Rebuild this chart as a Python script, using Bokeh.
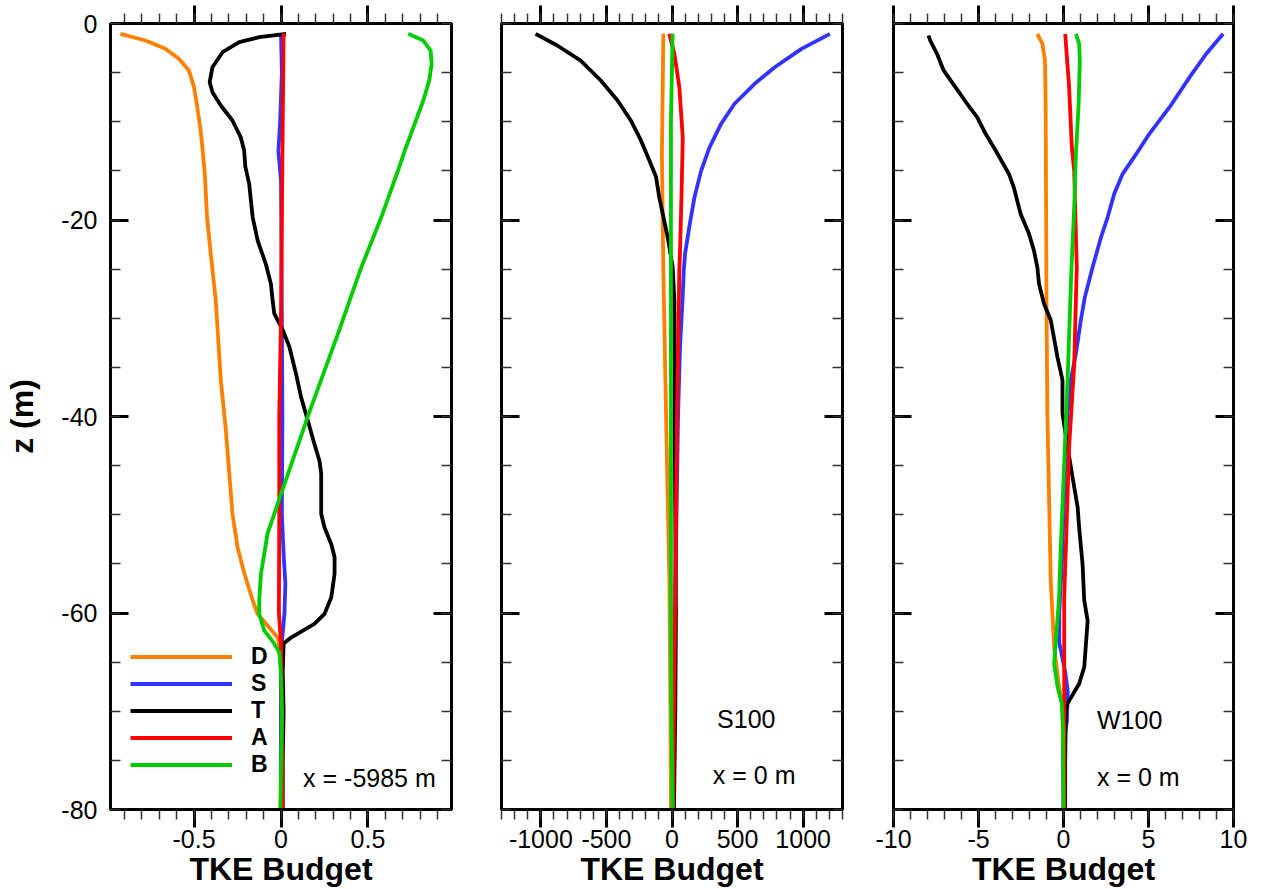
import numpy as np
from bokeh.plotting import figure
from bokeh.models import (LinearAxis, FixedTicker, CustomJSTickFormatter, Range1d,
                          Legend, LegendItem, Label)
from bokeh.layouts import row
from bokeh.embed import file_html
from bokeh.resources import INLINE

FONT = "Liberation Sans"

# ---------------- data ----------------
series_names = ["D", "S", "T", "A", "B"]
series_colors = ["#FF8000", "#3333FF", "#000000", "#FF0000", "#00CC00"]

y_ticks = [0, -20, -40, -60, -80]
p1_xticks = [-0.5, 0, 0.5]
p2_xticks = [-1000, -500, 0, 500, 1000]
p3_xticks = [-10, -5, 0, 5, 10]

# Panel 1 (x = -5985 m)
p1_D_z = [-1.05, -1.73, -2.58, -3.59, -4.78, -6.48, -8.52, -10.9, -12.6, -15.3, -19.7, -23.4, -28.2, -36.3, -41.4,
          -49.9, -53.3, -56, -58.7, -60.1, -60.9, -62.5, -64, -70, -80]
p1_D_x = [-0.923, -0.779, -0.664, -0.587, -0.529, -0.5, -0.481, -0.462, -0.452, -0.438, -0.425, -0.404, -0.375,
          -0.346, -0.317, -0.279, -0.25, -0.21, -0.163, -0.134, -0.096, -0.019, 0.0, 0.0, 0.0]
p1_S_z = [-1, -5, -10, -13, -16, -30, -40, -50, -54, -57, -60, -62, -64, -80]
p1_S_x = [0.0, 0.005, -0.005, -0.015, 0.0, 0.005, 0.008, 0.005, 0.015, 0.025, 0.02, 0.01, 0.0, 0.0]
p1_T_z = [-1.05, -1.39, -1.9, -2.92, -4.45, -5.97, -6.99, -8.35, -9.87, -11.6, -12.9, -14.6, -16.3, -18, -19.7,
          -22.1, -24.5, -26.5, -28.2, -29.5, -31.2, -32.9, -35.7, -38, -40.4, -42.8, -44.5, -45.8, -49.9, -51.3,
          -53, -54.3, -56, -58.4, -60.1, -61.1, -62.5, -63.1, -66, -70, -75, -80]
p1_T_x = [0.029, -0.125, -0.24, -0.336, -0.394, -0.41, -0.394, -0.346, -0.279, -0.231, -0.212, -0.205, -0.183,
          -0.173, -0.163, -0.134, -0.087, -0.058, -0.048, -0.039, 0.01, 0.048, 0.087, 0.115, 0.154, 0.192, 0.221,
          0.231, 0.231, 0.25, 0.289, 0.308, 0.308, 0.289, 0.25, 0.192, 0.058, 0.015, 0.01, 0.015, 0.01, 0.01]
p1_A_z = [-1, -10, -20, -30, -40, -50, -60, -63, -70, -80]
p1_A_x = [0.015, 0.01, 0.005, 0.0, -0.01, -0.01, -0.012, 0.0, 0.005, 0.008]
p1_B_z = [-1.05, -1.73, -2.75, -4.1, -5.8, -7.84, -10.2, -12.9, -14.6, -19.7, -24.8, -28.2, -31.2, -39.7, -47.9,
          -51.9, -56, -58.7, -60.1, -61.8, -63.1, -64, -66.2, -70.2, -80]
p1_B_x = [0.731, 0.818, 0.86, 0.866, 0.852, 0.818, 0.769, 0.712, 0.68, 0.577, 0.462, 0.394, 0.335, 0.16, 0.0,
          -0.077, -0.115, -0.125, -0.125, -0.096, -0.039, -0.01, 0.0, 0.006, -0.004]

# Panel 2 (S100, x = 0 m)
p2_D_z = [-1.05, -13.3, -25.1, -40, -56.7, -70, -80]
p2_D_x = [-66, -77, -66, -45, -20, -12, -8]
p2_S_z = [-1.05, -2.58, -4.45, -6.14, -8.17, -10.2, -12.6, -15, -17.7, -20.7, -23.4, -25.1, -28.2, -33, -40, -60, -80]
p2_S_x = [1204, 987, 783, 630, 477, 375, 286, 222, 171, 132, 100, 90, 80, 61, 46, 23, 8]
p2_T_z = [-1.05, -2.24, -3.77, -5.8, -7.84, -9.87, -11.9, -13.9, -15.6, -17.7, -20.1, -22.1, -24.8, -28.2, -35,
          -40, -50, -60, -70, -80]
p2_T_x = [-1040, -875, -696, -543, -415, -314, -237, -174, -122, -97, -59, -28, 5, 18, 22, 20, 25, 30, 25, 15]
p2_A_z = [-1.05, -3.08, -6.48, -11.6, -16.7, -21.8, -25.1, -40, -60, -80]
p2_A_x = [-21, 18, 56, 82, 74, 64, 56, 38, 23, 8]
p2_B_z = [-1.05, -10, -28, -40, -56.7, -70, -80]
p2_B_x = [5, -8, -8, -8, -8, -5, 5]

# Panel 3 (W100, x = 0 m)
p3_D_z = [-1.05, -2.07, -3.77, -8.17, -28.2, -39.7, -56.7, -63.5, -67.5, -69.5, -80]
p3_D_x = [-1.54, -1.24, -1.09, -1.05, -1.0, -0.95, -0.75, -0.55, -0.26, -0.06, 0.0]
p3_S_z = [-1.05, -3.08, -5.46, -8.52, -11.2, -13.3, -15.3, -17.3, -19.7, -21.8, -24.8, -27.9, -30.2, -33.6, -36.3,
          -39.7, -45, -55, -60, -63, -66, -68, -71, -73, -80]
p3_S_x = [9.39, 8.4, 7.42, 6.24, 5.06, 4.27, 3.48, 2.99, 2.6, 2.2, 1.71, 1.25, 1.02, 0.73, 0.43, 0.24, 0.1, -0.1,
          -0.25, -0.25, 0.1, 0.25, 0.2, 0.0, 0.0]
p3_T_z = [-1.22, -1.73, -3.08, -4.78, -6.48, -8.17, -9.54, -11.2, -12.9, -15.3, -16.7, -19.4, -21.4, -23.1, -24.8,
          -26.5, -28.5, -30.2, -34, -36.3, -39.7, -43.1, -47.2, -49.2, -51.3, -55, -58.7, -60.8, -65.5, -67.2,
          -69.2, -70, -75, -80]
p3_T_x = [-7.94, -7.84, -7.44, -7.05, -6.36, -5.67, -5.08, -4.59, -4.0, -3.21, -2.92, -2.52, -2.03, -1.74, -1.54,
          -1.44, -1.15, -0.75, -0.35, -0.06, -0.06, 0.24, 0.63, 0.83, 0.92, 1.12, 1.22, 1.42, 1.22, 0.92, 0.24,
          0.14, 0.1, 0.1]
p3_A_z = [-1.05, -6.48, -12.6, -15, -24.8, -34.7, -43.1, -53.3, -58.4, -80]
p3_A_x = [0.1, 0.33, 0.49, 0.63, 0.78, 0.63, 0.33, 0.14, 0.04, 0.05]
p3_B_z = [-1.05, -2.07, -3.77, -8.17, -13.3, -18.7, -24.8, -36.3, -44.8, -53.3, -58.4, -61.8, -65.2, -67.5, -69.2,
          -72, -80]
p3_B_x = [0.73, 0.92, 0.96, 0.89, 0.73, 0.63, 0.47, 0.24, 0.04, -0.16, -0.26, -0.4, -0.55, -0.35, -0.1, -0.02, 0.0]

panel1 = [(p1_D_x, p1_D_z), (p1_S_x, p1_S_z), (p1_T_x, p1_T_z), (p1_A_x, p1_A_z), (p1_B_x, p1_B_z)]
panel2 = [(p2_D_x, p2_D_z), (p2_S_x, p2_S_z), (p2_T_x, p2_T_z), (p2_A_x, p2_A_z), (p2_B_x, p2_B_z)]
panel3 = [(p3_D_x, p3_D_z), (p3_S_x, p3_S_z), (p3_T_x, p3_T_z), (p3_A_x, p3_A_z), (p3_B_x, p3_B_z)]

# ---------------- styling helpers ----------------
Y_MINOR = list(np.arange(-80, 0.1, 5))


def style_axis(ax, horizontal, show_labels):
    ax.axis_line_width = 3
    ax.axis_line_color = "black"
    ax.major_tick_line_width = 3
    ax.major_tick_line_color = "black"
    ax.minor_tick_line_width = 1.5
    ax.minor_tick_line_color = "#333333"
    if horizontal:
        ax.major_tick_out = 18
        ax.major_tick_in = 0
        ax.minor_tick_out = 10
        ax.minor_tick_in = 0
    else:
        ax.major_tick_in = 18
        ax.major_tick_out = 0
        ax.minor_tick_in = 10
        ax.minor_tick_out = 0
    if show_labels:
        ax.formatter = CustomJSTickFormatter(code="return tick.toString()")
        ax.major_label_text_font = FONT
        ax.major_label_text_font_size = "25px"
        ax.major_label_text_color = "black"
    else:
        ax.formatter = CustomJSTickFormatter(code="return ''")
        ax.major_label_text_font_size = "0px"
        ax.major_label_standoff = 0


def make_panel(width, left, right, xr, xticks, xminor, data, first=False):
    p = figure(width=width, height=889, x_range=Range1d(*xr), y_range=Range1d(-80, 0),
               output_backend="svg", toolbar_location=None,
               x_axis_location=None, y_axis_location=None,
               min_border_left=left, min_border_right=right,
               min_border_top=23, min_border_bottom=0)
    p.grid.visible = False
    p.outline_line_color = "black"
    p.outline_line_width = 3
    p.background_fill_color = "white"
    p.border_fill_color = "white"

    xt = FixedTicker(ticks=xticks, minor_ticks=xminor)
    yt = FixedTicker(ticks=y_ticks, minor_ticks=Y_MINOR)

    bottom = LinearAxis(ticker=xt, axis_label="TKE Budget")
    style_axis(bottom, True, True)
    bottom.major_label_standoff = 2
    bottom.axis_label_standoff = 0
    bottom.axis_label_text_font = FONT
    bottom.axis_label_text_font_size = "32px"
    bottom.axis_label_text_font_style = "bold"
    bottom.axis_label_text_color = "black"
    p.add_layout(bottom, "below")

    top = LinearAxis(ticker=xt)
    style_axis(top, True, False)
    p.add_layout(top, "above")

    if first:
        lft = LinearAxis(ticker=yt, axis_label="z (m)")
        style_axis(lft, False, True)
        lft.major_label_standoff = 13
        lft.axis_label_standoff = 18
        lft.axis_label_text_font = FONT
        lft.axis_label_text_font_size = "32px"
        lft.axis_label_text_font_style = "bold"
        lft.axis_label_text_color = "black"
    else:
        lft = LinearAxis(ticker=yt)
        style_axis(lft, False, False)
    p.add_layout(lft, "left")

    rgt = LinearAxis(ticker=yt)
    style_axis(rgt, False, False)
    p.add_layout(rgt, "right")

    renderers = []
    for (xs, zs), color in zip(data, series_colors):
        r = p.line(xs, zs, line_color=color, line_width=3.8, line_join="round")
        renderers.append(r)
    return p, renderers


p1, r1 = make_panel(476, 110, 25, (-0.98, 0.98), p1_xticks,
                    list(np.round(np.arange(-0.9, 0.95, 0.1), 2)), panel1, first=True)
p2, r2 = make_panel(391, 25, 25, (-1300, 1300), p2_xticks, list(np.arange(-1300, 1301, 100)), panel2)
p3, r3 = make_panel(386, 26, 20, (-10, 10), p3_xticks, list(np.arange(-10, 10.5, 1)), panel3)

legend = Legend(items=[LegendItem(label=n, renderers=[r]) for n, r in zip(series_names, r1)],
                location=(20, 31), padding=0, margin=0, spacing=0,
                glyph_width=102, glyph_height=25, label_height=25, label_standoff=19,
                label_text_font=FONT, label_text_font_size="23px", label_text_font_style="bold",
                label_text_color="black",
                background_fill_alpha=0, border_line_alpha=0)
p1.add_layout(legend)

lab_kw = dict(text_font=FONT, text_font_size="25px", text_baseline="middle", text_color="black")
p1.add_layout(Label(x=0.127, y=-76.8, text="x = -5985 m", **lab_kw))
p2.add_layout(Label(x=344, y=-70.8, text="S100", **lab_kw))
p2.add_layout(Label(x=311, y=-76.5, text="x = 0 m", **lab_kw))
p3.add_layout(Label(x=1.97, y=-70.9, text="W100", **lab_kw))
p3.add_layout(Label(x=1.97, y=-76.7, text="x = 0 m", **lab_kw))

layout = row(p1, p2, p3)
open("out.html", "w").write(file_html(layout, INLINE))
